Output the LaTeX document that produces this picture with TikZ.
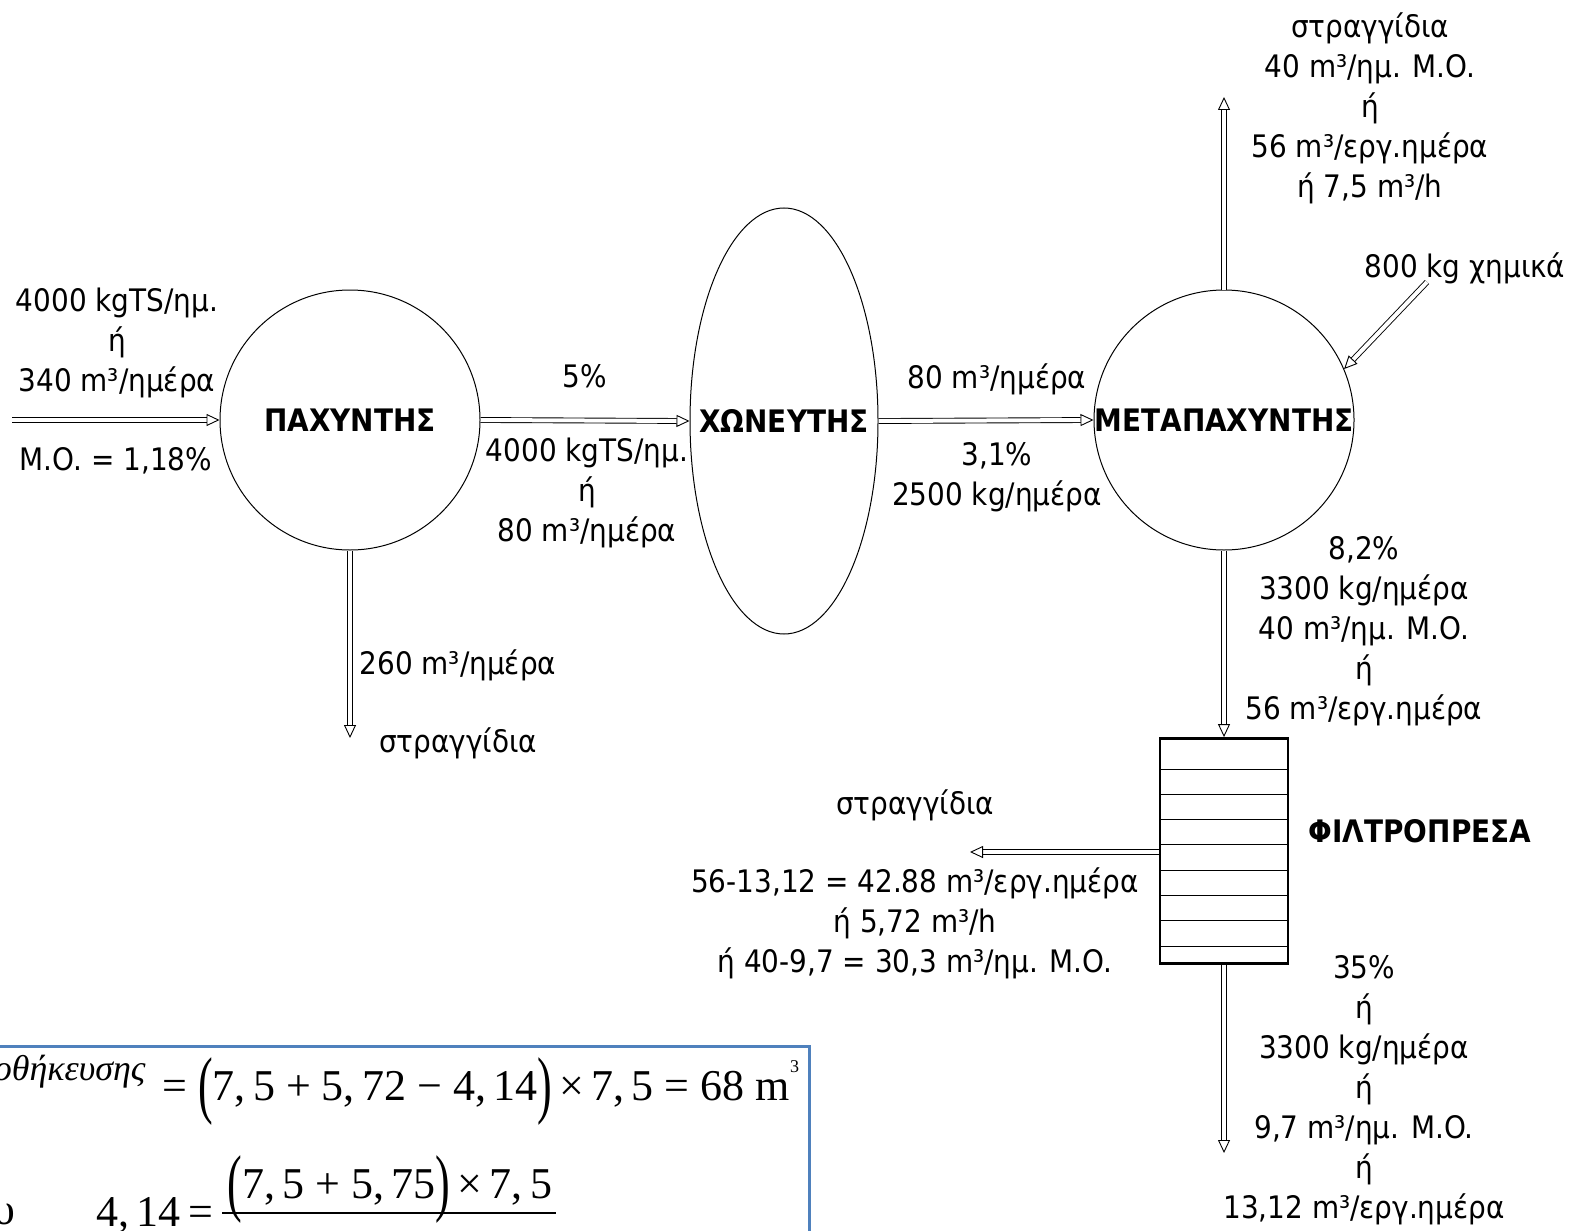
\documentclass[tikz,border=0pt]{standalone}
\usepackage{fontspec}
\usepackage{graphicx}
\setmainfont{DejaVu Sans Condensed}
\newfontfamily\tnr{Liberation Serif}
\usetikzlibrary{arrows.meta,shapes.geometric}

\definecolor{boxblue}{RGB}{79,129,189}

\newcommand{\bigparen}[1]{\raisebox{-4.5pt}{\scalebox{1}[1.7]{#1}}}

\tikzset{
  flow/.style={double, double distance=2pt, line width=0.45pt,
    -{Triangle[open,length=6.5pt,width=6pt]}},
  lbl/.style={align=center, inner sep=0pt, font=\fontsize{15.5}{20}\selectfont},
  unitname/.style={inner sep=0pt, font=\fontsize{15.5}{20}\selectfont\bfseries},
  tank/.style={draw, line width=0.5pt, inner sep=0pt},
  formula/.style={inner sep=0pt, font=\tnr\fontsize{22}{22}\selectfont},
}

\begin{document}
\begin{tikzpicture}[x=0.5pt,y=-0.5pt]
  \useasboundingbox (0,0) rectangle (1572,1230);

  \node[tank, circle, minimum size=130pt] (pax) at (350,420) {};
  \node[unitname] (paxname) at (pax.center) {ΠΑΧΥΝΤΗΣ};
  \node[tank, ellipse, minimum width=94pt, minimum height=213pt] (xon) at (784,421) {};
  \node[unitname] (xonname) at (xon.center) {ΧΩΝΕΥΤΗΣ};
  \node[tank, circle, minimum size=130pt] (meta) at (1224,420) {};
  \node[unitname] (metaname) at (meta.center) {ΜΕΤΑΠΑΧΥΝΤΗΣ};
  \node[draw, line width=1.4pt, minimum width=64pt, minimum height=112.5pt, inner sep=0pt] (fp) at (1224,851) {};
  \foreach \k in {0,...,7}
    \draw[line width=0.5pt] (1161,{769+25.3*\k}) -- (1287,{769+25.3*\k});
  \node[unitname] (fpname) at (1420,831) {ΦΙΛΤΡΟΠΡΕΣΑ};

  \coordinate (feed) at (12,420);
  \coordinate (paxout) at (350,738);
  \coordinate (metaout) at (1224,97);
  \coordinate (chem) at (1427,282);
  \coordinate (fpout) at (970,852);
  \coordinate (cake) at (1224,1153);

  \draw[flow] (feed) -- (pax.west);
  \draw[flow] (pax.east) -- (xon.west);
  \draw[flow] (xon.east) -- (meta.west);
  \draw[flow] (pax.south) -- (paxout);
  \draw[flow] (meta.north) -- (metaout);
  \draw[flow] (chem) -- (meta.23);
  \draw[flow] (meta.south) -- (fp.north);
  \draw[flow] (fp.west |- fpout) -- (fpout);
  \draw[flow] (fp.south) -- (cake);

  \node[lbl] (feedlbl) at (117,343) {4000 kgTS/ημ.\\ή\\340 m³/ημέρα};
  \node[lbl] (mo) at (116,461) {M.O. = 1,18\%};
  \node[lbl] (xonin) at (585,376) {5\%};
  \node[lbl] (xoninb) at (587,493) {4000 kgTS/ημ.\\ή\\80 m³/ημέρα};
  \node[lbl] (metain) at (997,379) {80 m³/ημέρα};
  \node[lbl] (metainb) at (997,477) {3,1\%\\2500 kg/ημέρα};
  \node[lbl] (toplbl) at (1370,108) {στραγγίδια\\40 m³/ημ. M.O.\\ή\\56 m³/εργ.ημέρα\\ή 7,5 m³/h};
  \node[lbl] (chemlbl) at (1465,268) {800 kg χημικά};
  \node[lbl] (fpin) at (1364,631) {8,2\%\\3300 kg/ημέρα\\40 m³/ημ. M.O.\\ή\\56 m³/εργ.ημέρα};
  \node[lbl] (paxoutlbl) at (458,665) {260 m³/ημέρα};
  \node[lbl] (paxoutname) at (458,743) {στραγγίδια};
  \node[lbl] (fpoutname) at (915,805) {στραγγίδια};
  \node[lbl] (fpoutlbl) at (915,923) {56-13,12 = 42.88 m³/εργ.ημέρα\\ή 5,72 m³/h\\ή 40-9,7 = 30,3 m³/ημ. M.O.};
  \node[lbl] (cakelbl) at (1364,1090) {35\%\\ή\\3300 kg/ημέρα\\ή\\9,7 m³/ημ. M.O.\\ή\\13,12 m³/εργ.ημέρα};

  \begin{scope}
    \clip (0,1030) rectangle (1572,1230);
    \draw[boxblue, line width=1.5pt] (-20,1046) rectangle (809,1300);
    \node[anchor=base east, inner sep=0pt, font=\tnr\itshape\fontsize{18}{18}\selectfont] (vsub) at (146,1080) {οθήκευσης};
    \node[formula, anchor=base west] (veq) at (162,1100)
      {= \bigparen{(}7,\,5 + 5,\,72 − 4,\,14\bigparen{)}\,×\,7,\,5 = 68 m\raisebox{14pt}{\fontsize{9}{9}\selectfont 3}};
    \node[formula, anchor=base east] (opou) at (16,1224) {υ};
    \node[formula, anchor=base west] (sval) at (96,1226) {4,\,14\,=};
    \node[formula, anchor=base] (snum) at (390,1198)
      {\bigparen{(}7,\,5 + 5,\,75\bigparen{)}\,×\,7,\,5};
    \draw[line width=1pt] (222,1213) -- (556,1213);
  \end{scope}
\end{tikzpicture}
\end{document}
